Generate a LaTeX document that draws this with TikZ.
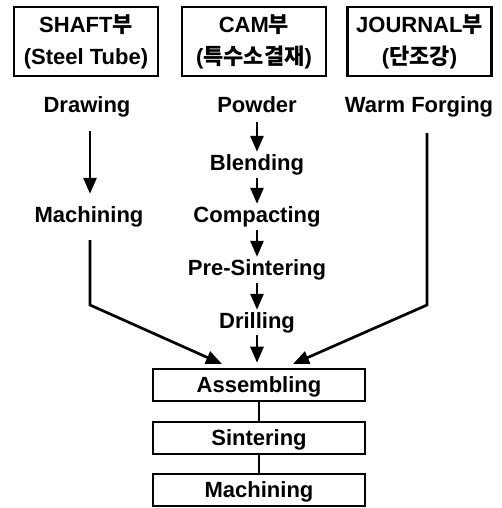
\documentclass[tikz,border=0pt]{standalone}
\usepackage{fontspec}
\setmainfont{Liberation Sans}
\newfontfamily\kr{Noto Sans CJK KR}
\usetikzlibrary{arrows.meta}
\begin{document}
\begin{tikzpicture}[x=1pt,y=-1pt,
  lab/.style={font=\fontsize{22}{24}\selectfont\bfseries, inner sep=0pt, anchor=base, text height=15pt, text depth=5pt},
  hbox/.style={draw, line width=2.8pt, minimum width=144pt, minimum height=69pt, inner sep=0pt, align=center, font=\fontsize{22}{32}\selectfont\bfseries},
  bbox/.style={draw, line width=2.6pt, minimum width=212pt, minimum height=32pt, inner sep=0pt, text height=15.5pt, text depth=0pt, font=\fontsize{22}{24}\selectfont\bfseries},
  arr/.style={line width=2.7pt, -{Triangle[length=16pt,width=13pt]}},
  ln/.style={line width=2.6pt}]
\useasboundingbox (0,0) rectangle (501,508);
% header boxes
\node[hbox] (shaft) at (86,41.5) {SHAFT{\kr 부}\\(Steel Tube)};
\node[hbox] (cam) at (254,41.5) {CAM{\kr 부}\\({\kr\bfseries 특수소결재})};
\node[hbox] (journal) at (419.5,41.5) {JOURNAL{\kr 부}\\({\kr\bfseries 단조강})};
% left column
\node[lab] (draw) at (87,113) {Drawing};
\node[lab] (mach1) at (89,222) {Machining};
% centre column
\node[lab] (powder) at (257,113) {Powder};
\node[lab] (blend) at (257,170) {Blending};
\node[lab] (compact) at (257,222) {Compacting};
\node[lab] (presint) at (257,275) {Pre-Sintering};
\node[lab] (drill) at (257,328) {Drilling};
% right column
\node[lab] (warm) at (419,113) {Warm Forging};
% bottom boxes
\node[bbox] (asm) at (259,385) {Assembling};
\node[bbox] (sint) at (259,438) {Sintering};
\node[bbox] (mach2) at (259,490) {Machining};
% junction coordinates
\coordinate (lj) at (90,305);
\coordinate (rj) at (427,305);
\coordinate (lt) at (222,364);
\coordinate (rt) at (293,364);
% connectors
\draw[arr, shorten <=13pt, shorten >=13pt] (draw.south -| lj) -- (mach1.north -| lj);
\draw[arr, shorten <=4pt, shorten >=3pt] (powder) -- (blend);
\draw[arr, shorten <=3pt, shorten >=3pt] (blend) -- (compact);
\draw[arr, shorten <=3pt, shorten >=3pt] (compact) -- (presint);
\draw[arr, shorten <=3pt, shorten >=3pt] (presint) -- (drill);
\draw[arr, shorten <=2pt, shorten >=5pt] (drill.south) -- (drill.south |- asm.north);
\draw[arr, line join=miter, shorten <=13pt] (mach1.south -| lj) -- (lj) -- (lt);
\draw[arr, line join=miter, shorten <=15pt] (warm.south -| rj) -- (rj) -- (rt);
\draw[ln] (asm) -- (sint);
\draw[ln] (sint) -- (mach2);
\end{tikzpicture}
\end{document}
